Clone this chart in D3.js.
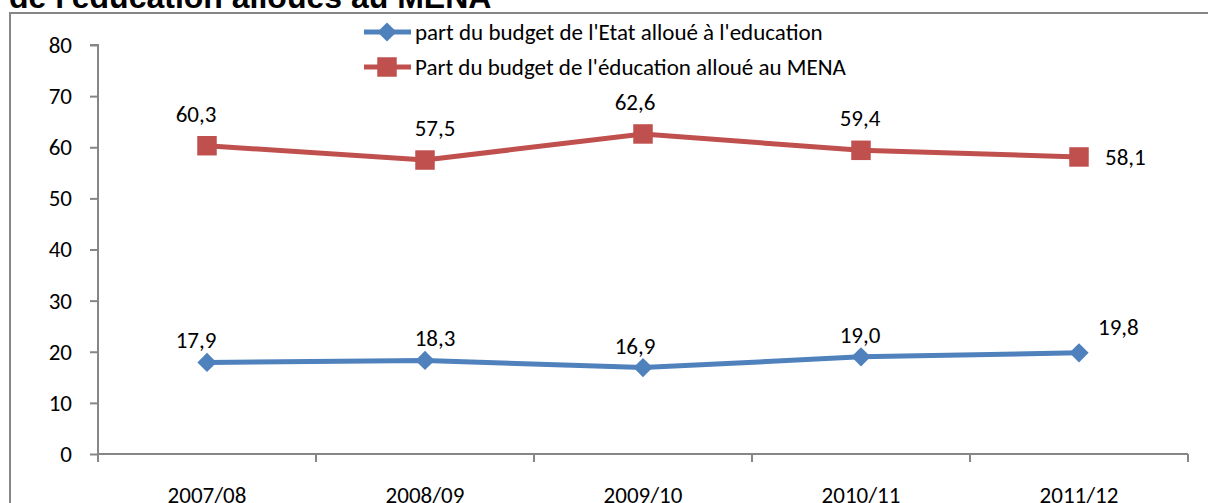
<!DOCTYPE html>
<html>
<head>
<meta charset="utf-8">
<script src="https://cdn.jsdelivr.net/npm/d3@7"></script>
<style>
  body { margin: 0; background: #fff; }
  svg { display: block; }
  .axis path, .axis line { stroke: #868686; stroke-width: 2px; }
  .axis text { font-family: Carlito, Lato, sans-serif; font-size: 23px; fill: #000; }
  .lbl { font-family: Carlito, Lato, sans-serif; font-size: 23px; fill: #000; }
</style>
</head>
<body>
<div id="chart"></div>
<script>
const years = ["2007/08", "2008/09", "2009/10", "2010/11", "2011/12"];
const partEtat = [17.9, 18.3, 16.9, 19.0, 19.8];
const partMena = [60.3, 57.5, 62.6, 59.4, 58.1];
const yTicks = [0, 10, 20, 30, 40, 50, 60, 70, 80];
const seriesNames = ["part du budget de l'Etat alloué à l'education",
                     "Part du budget de l'éducation alloué au MENA"];
const colors = ["#4F81BD", "#C0504D"];

const W = 1208, H = 503;
const svg = d3.select("#chart").append("svg")
  .attr("width", W)
  .attr("height", H);

// outer frame (chart area border)
svg.append("rect")
  .attr("x", 10).attr("y", 13)
  .attr("width", 1230).attr("height", 520)
  .attr("fill", "none")
  .attr("stroke", "#868686")
  .attr("stroke-width", 2);

// title, cut at the top
svg.append("text")
  .attr("x", 9).attr("y", 8)
  .style("font-family", "Liberation Sans, Arial, sans-serif")
  .style("font-weight", "bold")
  .style("font-size", "32px")
  .text("de l'éducation alloués au MENA");

var x = d3.scaleBand().domain(years).range([98, 1188]).padding(0);
var y = d3.scaleLinear().domain([0, 80]).range([454, 45]);

// y axis
svg.append("g")
  .attr("class", "axis")
  .attr("transform", "translate(98,0)")
  .call(d3.axisLeft(y).tickValues(yTicks).tickSize(8).tickPadding(18).tickFormat(d3.format("d")))
  .call(g => g.select(".domain").attr("d", "M-8," + y(80) + "H0V" + y(0)));

// x axis
var xg = svg.append("g")
  .attr("class", "axis")
  .attr("transform", "translate(0," + y(0) + ")")
  .call(d3.axisBottom(x).tickSize(0).tickPadding(33));
xg.select(".domain").attr("d", "M98,0H1188");
// ticks between categories
xg.selectAll(".bound")
  .data(years.map(d => x(d)).concat([x.range()[1]]))
  .enter().append("line")
  .attr("class", "bound")
  .attr("x1", d => d).attr("x2", d => d)
  .attr("y1", 0).attr("y2", 8);

var cx = i => x(years[i]) + x.bandwidth() / 2;

var line = d3.line()
  .x((d, i) => cx(i))
  .y(d => y(d));

// marker: rotated square for the blue series, square for the red one
function marker(sel, s) {
  sel.attr("d", d3.symbol().type(d3.symbolSquare).size(s == 0 ? 185 : 380))
    .attr("fill", colors[s]);
}

// label nudges (Excel places them slightly off-centre)
var nudge = [-11, 10, -8, -1];

[partEtat, partMena].forEach(function(vals, s) {
  svg.append("path")
    .datum(vals)
    .attr("d", line)
    .attr("fill", "none")
    .attr("stroke", colors[s])
    .attr("stroke-width", 5);

  svg.selectAll(".m" + s)
    .data(vals)
    .enter().append("path")
    .attr("class", "m" + s)
    .call(marker, s)
    .attr("transform", (d, i) => "translate(" + cx(i) + "," + y(d) + ")" + (s == 0 ? " rotate(45)" : ""));

  // data labels
  var last = vals.length - 1;
  svg.selectAll(".l" + s)
    .data(vals)
    .enter().append("text")
    .attr("class", "lbl")
    .attr("x", function(d, i) {
      if (i == last) return s == 1 ? cx(i) + 26 : cx(i) + 19;
      return cx(i) + nudge[i];
    })
    .attr("y", function(d, i) {
      if (i == last) return s == 1 ? y(d) + 8 : y(d) - 18;
      return s == 0 ? y(d) - 14 : y(d) - 24;
    })
    .attr("text-anchor", (d, i) => i == last ? "start" : "middle")
    .text(d => d.toFixed(1).replace(".", ","));
});

// legend
var leg = svg.append("g");
seriesNames.forEach(function(name, s) {
  var ly = s == 0 ? 32 : 67;
  leg.append("line")
    .attr("x1", 364).attr("x2", 411)
    .attr("y1", ly).attr("y2", ly)
    .attr("stroke", colors[s])
    .attr("stroke-width", 5);
  leg.append("path")
    .call(marker, s)
    .attr("transform", "translate(387," + ly + ")" + (s == 0 ? " rotate(45)" : ""));
  leg.append("text")
    .attr("class", "lbl")
    .attr("x", 415).attr("y", ly + 8)
    .text(name);
});
</script>
</body>
</html>
